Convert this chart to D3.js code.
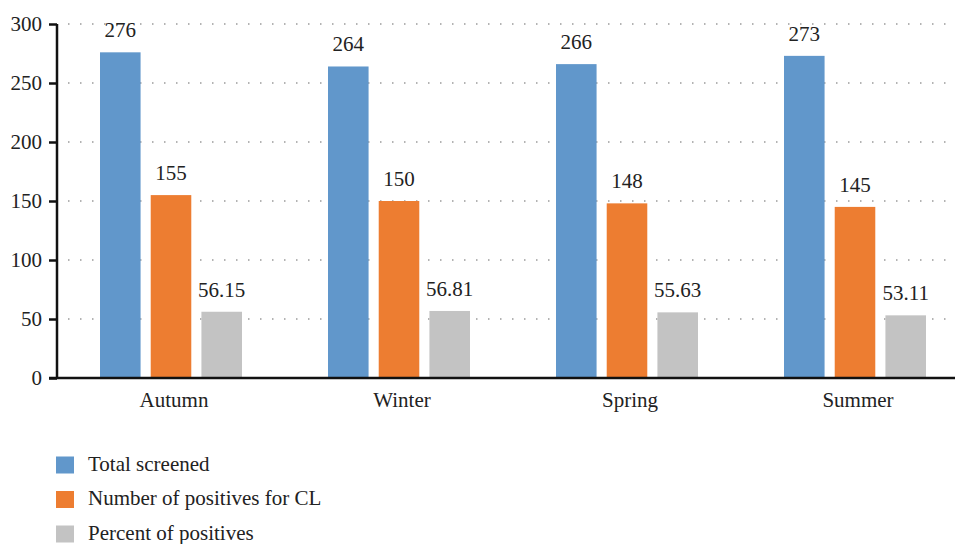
<!DOCTYPE html>
<html><head><meta charset="utf-8">
<script src="https://cdn.jsdelivr.net/npm/d3@7"></script>
<style>body{margin:0;background:#fff}</style>
</head><body><svg id="c" width="955" height="544" style="font-family:'Liberation Serif',serif"></svg>
<script>
const categories = ["Autumn","Winter","Spring","Summer"];
const seriesNames = ["Total screened","Number of positives for CL","Percent of positives"];
const totalScreened = [276,264,266,273];
const positivesCL = [155,150,148,145];
const percentPositives = [56.15,56.81,55.63,53.11];
const yTicks = [0,50,100,150,200,250,300];
const colors = ["#6197CB","#ED7D31","#C3C3C3"];
const seriesValues = [totalScreened, positivesCL, percentPositives];
const labelFmt = [d=>d, d=>d, d=>d.toFixed(2)];
const FONT = "'Liberation Serif',serif";
const FS = "21px";

const svg = d3.select("#c");
const x0 = d3.scaleBand().domain(categories).range([57, 969]).paddingInner(0).paddingOuter(0);
const y = d3.scaleLinear().domain([0,300]).range([378, 24]);
const x1 = d3.scaleBand().domain(d3.range(3)).range([43, 185]).paddingInner(0.2).paddingOuter(0);

// gridlines
svg.append("g").selectAll("line").data(yTicks.filter(t=>t>0)).join("line")
  .attr("x1",68).attr("x2",948).attr("y1",d=>y(d)).attr("y2",d=>y(d))
  .attr("stroke","#9a9a9a").attr("stroke-width",1.5).attr("stroke-dasharray","1.5,10.5");

// bars
const g = svg.append("g").selectAll("g").data(categories).join("g")
  .attr("transform",d=>`translate(${x0(d)},0)`);
g.selectAll("rect").data((d,i)=>seriesValues.map((s,j)=>({j,v:s[i]}))).join("rect")
  .attr("x",d=>x1(d.j)).attr("width",x1.bandwidth())
  .attr("y",d=>y(d.v)).attr("height",d=>y(0)-y(d.v)).attr("fill",d=>colors[d.j]);
g.selectAll("text").data((d,i)=>seriesValues.map((s,j)=>({j,v:s[i]}))).join("text")
  .attr("x",d=>x1(d.j)+x1.bandwidth()/2).attr("y",d=>y(d.v)-15)
  .attr("text-anchor","middle").style("font-family",FONT).style("font-size",FS)
  .attr("fill","#222").text(d=>labelFmt[d.j](d.v));

// y axis
const ya = svg.append("g").attr("transform","translate(57,0)")
  .call(d3.axisLeft(y).tickValues(yTicks).tickSize(8).tickPadding(7));
ya.select(".domain").attr("stroke","#111").attr("stroke-width",2.5).attr("d","M0,24V378");
ya.selectAll(".tick line").attr("stroke","#111").attr("stroke-width",2.5);
ya.selectAll(".tick text").style("font-size",FS).style("font-family",FONT).attr("fill","#222");

// x axis
const xa = svg.append("g").attr("transform","translate(0,378)")
  .call(d3.axisBottom(x0).tickSize(0).tickPadding(14));
xa.select(".domain").attr("stroke","#111").attr("stroke-width",2.5).attr("d","M49,0H955");
xa.selectAll(".tick text").style("font-size",FS).style("font-family",FONT).attr("fill","#222")
  .attr("dx",3);

// legend
const lg = svg.append("g").selectAll("g").data(seriesNames).join("g")
  .attr("transform",(d,i)=>`translate(56,${456.5+i*34.5})`);
lg.append("rect").attr("width",18).attr("height",17).attr("fill",(d,i)=>colors[i]);
lg.append("text").attr("x",32).attr("y",14).style("font-family",FONT).style("font-size",FS)
  .attr("fill","#222").text(d=>d);
</script></body></html>
